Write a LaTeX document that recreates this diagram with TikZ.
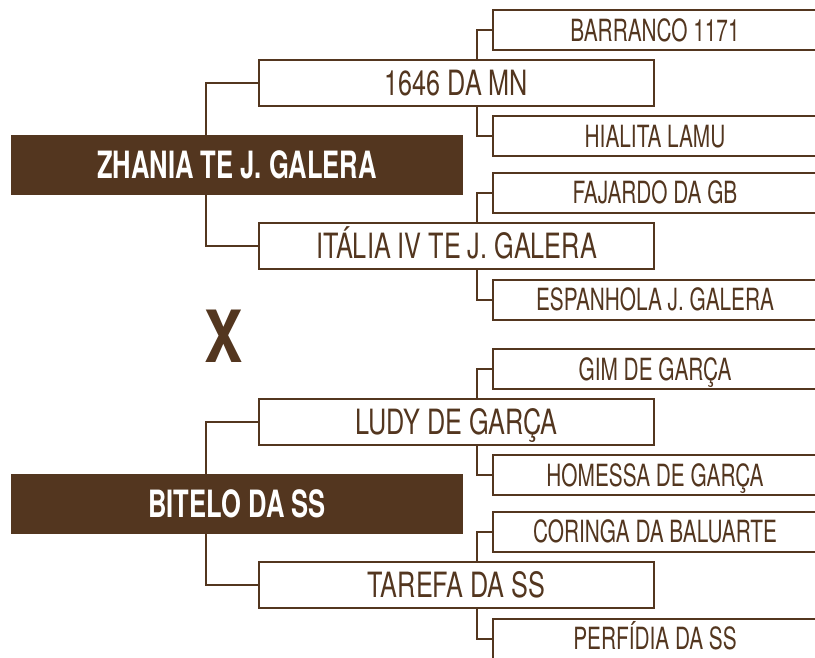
\documentclass[tikz,border=0pt]{standalone}
\usepackage{fontspec}
\setmainfont{TeX Gyre Heros}[FakeStretch=0.68]
\newfontfamily\midfont{TeX Gyre Heros}[FakeStretch=0.725]
\newfontfamily\crossfont{TeX Gyre Heros}[FakeStretch=0.8]
\definecolor{brn}{HTML}{53361F}
\tikzset{
  mainbox/.style={fill=brn, text=white, font=\bfseries\fontsize{37.6}{40}\selectfont,
    minimum width=452pt, minimum height=60pt, inner sep=0pt, text height=27pt, text depth=0pt},
  midbox/.style={draw=brn, line width=2pt, fill=white, text=brn, font=\midfont\fontsize{34.8}{38}\selectfont,
    minimum width=395pt, minimum height=46pt, inner sep=0pt, text height=25pt, text depth=0pt},
  leafbox/.style={draw=brn, line width=2pt, fill=white, text=brn, font=\fontsize{30.6}{33}\selectfont,
    minimum width=324pt, minimum height=40pt, inner sep=0pt, text height=22pt, text depth=0pt},
  link/.style={draw=brn, line width=2pt},
  crossmark/.style={text=brn, font=\crossfont\bfseries\fontsize{72}{72}\selectfont, inner sep=0pt, text height=52pt, text depth=0pt},
}
\newcommand\halftree[9]{%
  \begin{scope}[yshift=#2, name prefix=#1-]
    \node[mainbox] (main) at (237,165) {#3};
    \node[midbox] (m1) at (456.5,83) {#4};
    \node[midbox] (m2) at (456.5,246) {#5};
    \node[leafbox] (r1) at (655,30) {#6};
    \node[leafbox] (r2) at (655,136) {#7};
    \node[leafbox] (r3) at (655,192.5) {#8};
    \node[leafbox] (r4) at (655,299.5) {#9};
    \draw[link] (main.north west) ++(195,0) |- (m1.west);
    \draw[link] (main.south west) ++(195,0) |- (m2.west);
    \draw[link] (m1.north west) ++(219,0) |- (r1.west);
    \draw[link] (m1.south west) ++(219,0) |- (r2.west);
    \draw[link] (m2.north west) ++(219,0) |- (r3.west);
    \draw[link] (m2.south west) ++(219,0) |- (r4.west);
  \end{scope}}
\begin{document}
\begin{tikzpicture}[x=1pt,y=-1pt]
  \path[use as bounding box, clip] (0,0) rectangle (815,657);
  \halftree{top}{0pt}{ZHANIA TE J. GALERA}{1646 DA MN}{ITÁLIA IV TE J. GALERA}{BARRANCO 1171}{HIALITA LAMU}{FAJARDO DA GB}{ESPANHOLA J. GALERA}
  \halftree{bot}{-339pt}{BITELO DA SS}{LUDY DE GARÇA}{TAREFA DA SS}{GIM DE GARÇA}{HOMESSA DE GARÇA}{CORINGA DA BALUARTE}{PERFÍDIA DA SS}
  \node[crossmark] (cross) at (224,336) {X};
\end{tikzpicture}
\end{document}
